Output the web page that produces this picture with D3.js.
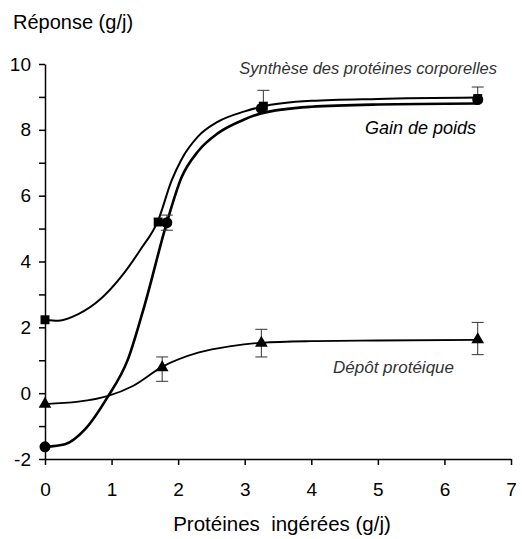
<!DOCTYPE html>
<html>
<head>
  <meta charset="utf-8">
  <title>Réponse aux protéines ingérées</title>
  <script src="https://d3js.org/d3.v7.min.js"></script>
  <style>
    body { margin: 0; background: #fff; }
    svg { display: block; font-family: "Liberation Sans", Arial, sans-serif; }
    .axis path, .axis line { stroke: #000; stroke-width: 1.5px; }
    .axis text { font-size: 19px; fill: #000; }
    .fit { fill: none; stroke: #000; }
    .err { stroke: #333; stroke-width: 1px; }
    .lbl { font-style: italic; }
  </style>
</head>
<body>
  <script>
    // measured points (x = protéines ingérées g/j, y = réponse g/j)
    const syntheseX = [0, 1.7, 3.28, 6.5];
    const synthese = [2.23, 5.2, 8.72, 8.95];
    const syntheseErrUp = [0, 0, 0.48, 0];
    const syntheseErrDown = [0, 0, 0, 0];
    const gainX = [0, 1.83, 3.25, 6.5];
    const gain = [-1.63, 5.18, 8.65, 8.92];
    const gainErrUp = [0, 0.23, 0, 0.38];
    const gainErrDown = [0, 0.23, 0, 0];
    const depotX = [0, 1.76, 3.25, 6.5];
    const depot = [-0.33, 0.78, 1.52, 1.63];
    const depotErrUp = [0, 0.32, 0.42, 0.52];
    const depotErrDown = [0, 0.42, 0.42, 0.46];

    // fitted curves
    const syntheseCurveX = [0, 0.2, 0.5, 0.83, 1.13, 1.43, 1.7, 1.9, 2.05, 2.3, 2.6, 3.0, 3.25, 4, 5, 6.5];
    const syntheseCurveY = [2.23, 2.2, 2.4, 2.85, 3.5, 4.35, 5.25, 6.45, 7.1, 7.8, 8.25, 8.56, 8.7, 8.88, 8.94, 8.98];
    const gainCurveX = [0, 0.3, 0.6, 0.93, 1.25, 1.5, 1.83, 2.05, 2.3, 2.6, 3.0, 3.25, 4, 5, 6.5];
    const gainCurveY = [-1.63, -1.55, -1.1, -0.15, 1.05, 2.7, 5.18, 6.55, 7.35, 7.9, 8.32, 8.5, 8.7, 8.77, 8.8];
    const depotCurveX = [0, 0.5, 0.95, 1.32, 1.76, 2.3, 2.8, 3.25, 4, 5, 6.5];
    const depotCurveY = [-0.33, -0.26, -0.08, 0.22, 0.8, 1.23, 1.43, 1.53, 1.58, 1.6, 1.62];

    const xTicks = [0, 1, 2, 3, 4, 5, 6, 7];
    const yTicks = [-2, -1, 0, 1, 2, 3, 4, 5, 6, 7, 8, 9, 10];
    const yLabels = [-2, 0, 2, 4, 6, 8, 10];

    const width = 522, height = 539;
    const svg = d3.select("body").append("svg")
        .attr("width", width)
        .attr("height", height);

    const x = d3.scaleLinear().domain([0, 7]).range([45, 511]);
    const y = d3.scaleLinear().domain([-2, 10]).range([459, 64]);

    // axes
    svg.append("g")
        .attr("class", "axis")
        .attr("transform", `translate(0,${y(-2)})`)
        .call(d3.axisBottom(x).tickValues(xTicks).tickFormat(d3.format("d"))
          .tickSize(6).tickPadding(18).tickSizeOuter(0));

    svg.append("g")
        .attr("class", "axis")
        .attr("transform", `translate(${x(0)},0)`)
        .call(d3.axisLeft(y).tickValues(yTicks).tickSize(6).tickPadding(8).tickSizeOuter(0)
          .tickFormat(d => yLabels.includes(d) ? d : ""));

    svg.append("text")
        .attr("x", 13).attr("y", 29)
        .attr("font-size", 20)
        .text("Réponse (g/j)");

    svg.append("text")
        .attr("x", 282).attr("y", 531)
        .attr("text-anchor", "middle")
        .attr("font-size", 20.5)
        .attr("xml:space", "preserve")
        .text("Protéines  ingérées (g/j)");

    // curves
    const line = d3.line().x(d => x(d[0])).y(d => y(d[1])).curve(d3.curveMonotoneX);
    svg.append("path").attr("class", "fit").attr("stroke-width", 1.8)
        .attr("d", line(d3.zip(depotCurveX, depotCurveY)));
    svg.append("path").attr("class", "fit").attr("stroke-width", 2)
        .attr("d", line(d3.zip(syntheseCurveX, syntheseCurveY)));
    svg.append("path").attr("class", "fit").attr("stroke-width", 2.6)
        .attr("d", line(d3.zip(gainCurveX, gainCurveY)));

    // error bars
    function errorBars(xs, ys, up, down) {
      const data = d3.zip(xs, ys, up, down).filter(d => d[2] > 0 || d[3] > 0);
      const g = svg.append("g");
      data.forEach(d => {
        const cx = x(d[0]);
        g.append("line").attr("class", "err")
          .attr("x1", cx).attr("x2", cx)
          .attr("y1", y(d[1] - d[3])).attr("y2", y(d[1] + d[2]));
        [[d[1] + d[2], d[2]], [d[1] - d[3], d[3]]].forEach(v => {
          if (v[1] <= 0) return;
          g.append("line").attr("class", "err")
            .attr("x1", cx - 6).attr("x2", cx + 6)
            .attr("y1", y(v[0])).attr("y2", y(v[0]));
        });
      });
    }
    errorBars(depotX, depot, depotErrUp, depotErrDown);
    errorBars(syntheseX, synthese, syntheseErrUp, syntheseErrDown);
    errorBars(gainX, gain, gainErrUp, gainErrDown);

    // markers
    svg.append("g").selectAll("path")
        .data(d3.zip(syntheseX, synthese))
        .join("path")
        .attr("transform", d => `translate(${x(d[0])},${y(d[1])})`)
        .attr("d", d3.symbol(d3.symbolSquare, 80));
    svg.append("g").selectAll("path")
        .data(d3.zip(depotX, depot))
        .join("path")
        .attr("transform", d => `translate(${x(d[0])},${y(d[1])})`)
        .attr("d", d3.symbol(d3.symbolTriangle, 70));
    svg.append("g").selectAll("circle")
        .data(d3.zip(gainX, gain))
        .join("circle")
        .attr("cx", d => x(d[0]))
        .attr("cy", d => y(d[1]))
        .attr("r", 5.5);

    // series labels
    svg.append("text").attr("class", "lbl")
        .attr("x", 497).attr("y", 74).attr("text-anchor", "end")
        .attr("font-size", 16.5).attr("fill", "#333")
        .text("Synthèse des protéines corporelles");
    svg.append("text").attr("class", "lbl")
        .attr("x", 476).attr("y", 134).attr("text-anchor", "end")
        .attr("font-size", 18).attr("fill", "#000")
        .text("Gain de poids");
    svg.append("text").attr("class", "lbl")
        .attr("x", 454).attr("y", 373).attr("text-anchor", "end")
        .attr("font-size", 17).attr("fill", "#333")
        .text("Dépôt protéique");
  </script>
</body>
</html>
